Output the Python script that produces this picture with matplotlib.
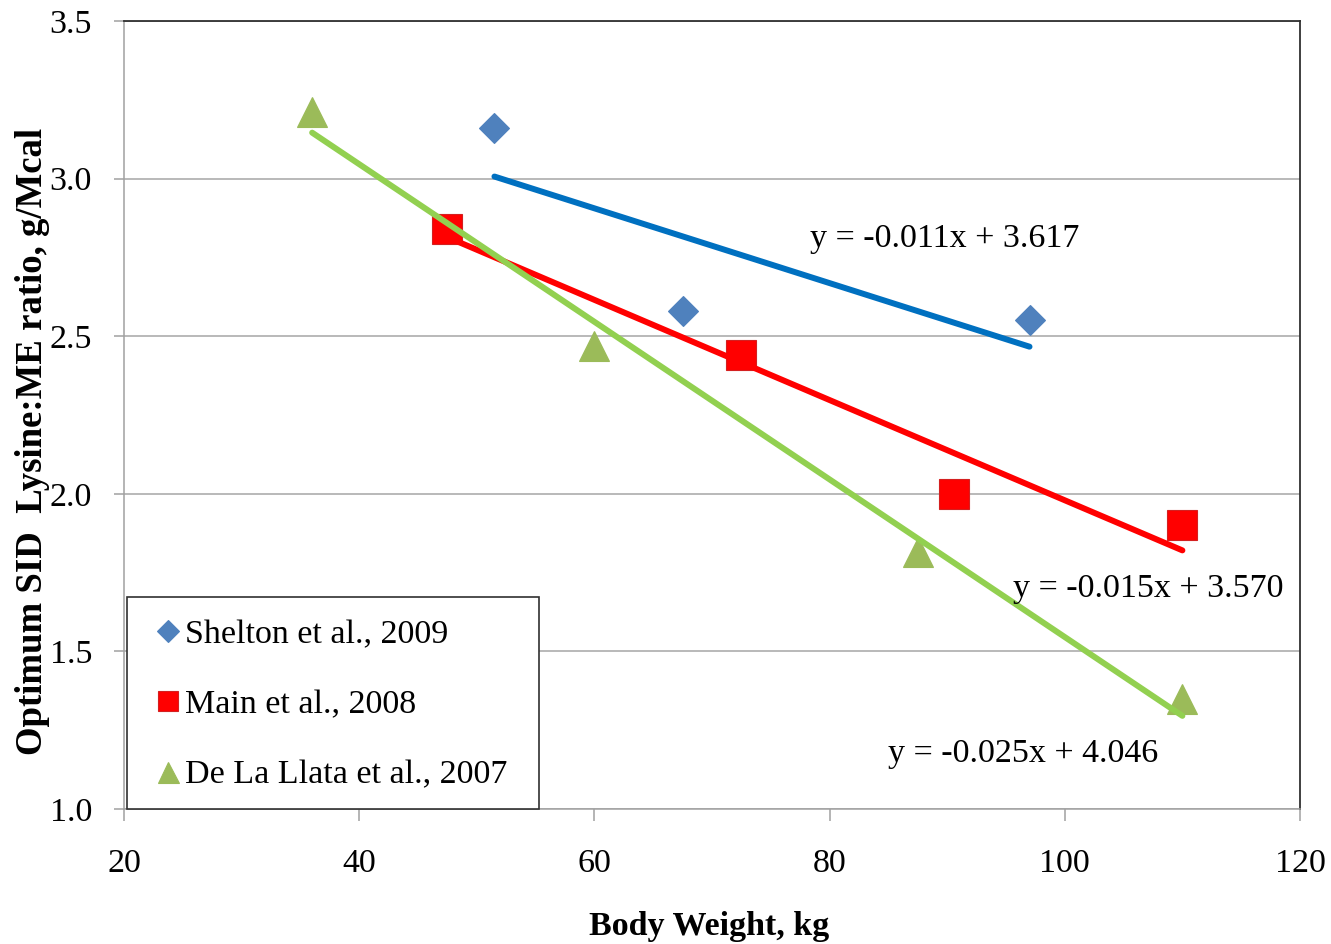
import numpy as np
import matplotlib
matplotlib.use("Agg")
import matplotlib.pyplot as plt
from matplotlib.patches import Rectangle

plt.rcParams['font.family'] = ['Liberation Serif', 'DejaVu Serif']

# data
shelton_x = [51.5, 67.5, 97.0]
shelton_y = [3.16, 2.58, 2.55]
main_x = [47.5, 72.5, 90.6, 110.0]
main_y = [2.84, 2.44, 2.00, 1.90]
llata_x = [36.0, 60.0, 87.5, 110.0]
llata_y = [3.21, 2.47, 1.815, 1.35]

labels = ['Shelton et al., 2009', 'Main et al., 2008', 'De La Llata et al., 2007']
equations = ['y = -0.011x + 3.617', 'y = -0.015x + 3.570', 'y = -0.025x + 4.046']

x_ticks = [20, 40, 60, 80, 100, 120]
y_ticks = [1.0, 1.5, 2.0, 2.5, 3.0, 3.5]

fs = 24.5

fig = plt.figure(figsize=(13.31, 9.44), dpi=100)
ax = fig.add_axes([124 / 1331, (944 - 809) / 944, 1176 / 1331, 788 / 944])

series = [
    (shelton_x, shelton_y, 'D', '#4F81BD', '#4F81BD', 15.3, '#0070C0'),
    (main_x, main_y, 's', '#FF0000', '#D42020', 21.4, '#FF0000'),
    (llata_x, llata_y, '^', '#9BBB59', '#9BBB59', 21.6, '#92D050'),
]

for (xs, ys, mk, fc, ec, ms, lc), lab in zip(series, labels):
    ax.plot(xs, ys, linestyle='none', marker=mk, markersize=ms,
            markerfacecolor=fc, markeredgecolor=ec, markeredgewidth=0.8,
            label=lab, zorder=2)
    # linear trend line over the data range
    k, b = np.polyfit(xs, ys, 1)
    xx = np.array([min(xs), max(xs)])
    ax.plot(xx, k * xx + b, color=lc, linewidth=4.3,
            solid_capstyle='round', zorder=3)

# trend line equations
ax.text(78.3, 2.784, equations[0], fontsize=fs, ha='left', va='baseline')
ax.text(95.6, 1.674, equations[1], fontsize=fs, ha='left', va='baseline')
ax.text(85.0, 1.150, equations[2], fontsize=fs, ha='left', va='baseline')

ax.set_xlim(20, 120)
ax.set_ylim(1.0, 3.5)
ax.set_xticks(x_ticks)
ax.set_xticklabels([str(v) for v in x_ticks])
ax.set_yticks(y_ticks)
ax.set_yticklabels([f'{v:.1f}' for v in y_ticks])

ax.yaxis.grid(True, color='#A6A6A6', linewidth=1.1)
ax.set_axisbelow(True)

ax.tick_params(axis='x', direction='out', length=8.5, width=1.1,
               color='#A0A0A0', labelsize=fs, pad=20)
ax.tick_params(axis='y', direction='out', length=7, width=1.1,
               color='#A0A0A0', labelsize=fs, pad=16)

for side in ['left', 'bottom']:
    ax.spines[side].set_color('#A0A0A0')
    ax.spines[side].set_linewidth(1.1)
for side in ['top', 'right']:
    ax.spines[side].set_color('#303030')
    ax.spines[side].set_linewidth(1.3)

ax.set_xlabel('Body Weight, kg', fontsize=fs, fontweight='bold')
ax.xaxis.set_label_coords(0.4979, -0.1294)
ax.set_ylabel('Optimum SID  Lysine:ME ratio, g/Mcal', fontsize=26.5,
              fontweight='bold')
ax.yaxis.set_label_coords(-0.0625, 0.466)

# legend box
box = Rectangle((0.0025, 0.0), 0.35, 0.269, transform=ax.transAxes,
                facecolor='white', edgecolor='#303030', linewidth=1.2,
                zorder=4, clip_on=False)
ax.add_patch(box)
leg = ax.legend(loc='upper left', bbox_to_anchor=(0.0289, 0.241),
                frameon=False, fontsize=fs, borderpad=0, borderaxespad=0,
                handlelength=0.6, handletextpad=0.2, labelspacing=1.16,
                markerscale=0.7)
leg.set_zorder(5)

fig.savefig('out.png', dpi=100)
